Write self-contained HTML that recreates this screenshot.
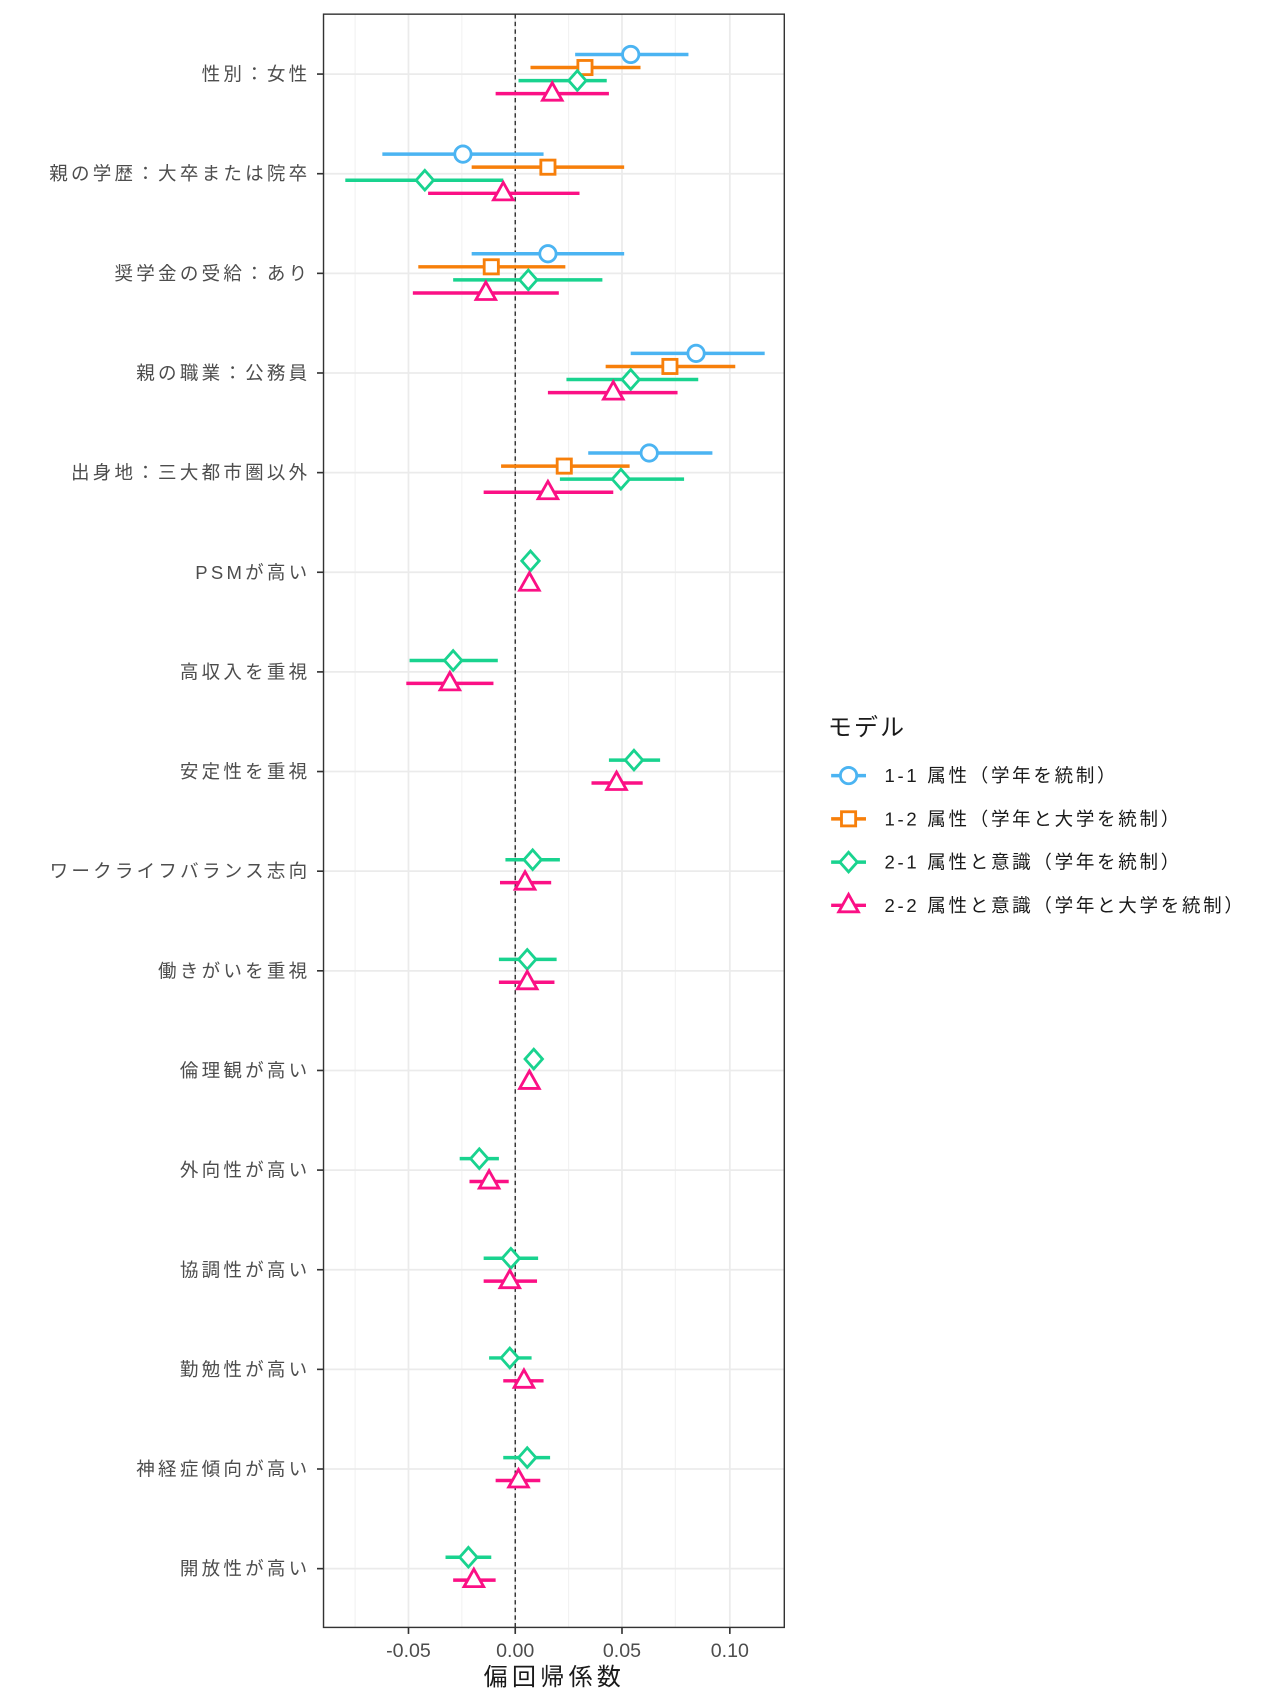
<!DOCTYPE html>
<html><head><meta charset="utf-8"><style>html,body{margin:0;padding:0;background:#fff}svg{display:block}</style></head>
<body>
<svg id="s" width="1281" height="1708" viewBox="0 0 1281 1708" xmlns="http://www.w3.org/2000/svg" font-family="'Liberation Sans','Noto Sans CJK JP',sans-serif">
<g id="g" transform="scale(1.0893)"></g>
</svg>
<script>
const g=document.getElementById('g');let h='';
const L=297,R=720,T=13,B=1494;
h+=`<rect x="${L}" y="${T}" width="${R-L}" height="${B-T}" fill="#fff"/>`;
[326,424,522,620].forEach(x=>h+=`<line x1="${x}" y1="${T}" x2="${x}" y2="${B}" stroke="#f2f2f2" stroke-width="1"/>`);
[375,473,571,670].forEach(x=>h+=`<line x1="${x}" y1="${T}" x2="${x}" y2="${B}" stroke="#ebebeb" stroke-width="1.6"/>`);
const labels=["性別：女性","親の学歴：大卒または院卒","奨学金の受給：あり","親の職業：公務員","出身地：三大都市圏以外","PSMが高い","高収入を重視","安定性を重視","ワークライフバランス志向","働きがいを重視","倫理観が高い","外向性が高い","協調性が高い","勤勉性が高い","神経症傾向が高い","開放性が高い"];
const rowY=i=>68+i*91.47;
labels.forEach((t,i)=>{const y=rowY(i);
h+=`<line x1="${L}" y1="${y}" x2="${R}" y2="${y}" stroke="#ebebeb" stroke-width="1.6"/>`;
h+=`<line x1="291" y1="${y}" x2="${L}" y2="${y}" stroke="#333" stroke-width="1.5"/>`;
h+=`<text x="285" y="${y+6}" text-anchor="end" font-size="17" letter-spacing="3" fill="#4d4d4d">${t}</text>`;});
h+=`<line x1="473" y1="${T}" x2="473" y2="${B}" stroke="#222" stroke-width="1.2" stroke-dasharray="4,3"/>`;
const C=["#4bb4f2","#f77f0a","#19d38f","#fb1085"];
function mk(k,x,y){const c=C[k];
if(k==0)return `<circle cx="${x}" cy="${y}" r="7.5" fill="#fff" stroke="${c}" stroke-width="2.6"/>`;
if(k==1)return `<rect x="${x-6.5}" y="${y-6.5}" width="13" height="13" fill="#fff" stroke="${c}" stroke-width="2.6"/>`;
if(k==2)return `<polygon points="${x},${y-9} ${x+8},${y} ${x},${y+9} ${x-8},${y}" fill="#fff" stroke="${c}" stroke-width="2.6"/>`;
return `<polygon points="${x},${y-10} ${x+9},${y+6} ${x-9},${y+6}" fill="#fff" stroke="${c}" stroke-width="2.6"/>`;}
const D=[
[[579,528,632],[537,487,588],[530,476,557],[507,455,559]],
[[425,351,499],[503,433,573],[390,317,462],[462,393,532]],
[[503,433,573],[451,384,519],[485,416,553],[446,379,513]],
[[639,579,702],[615,556,675],[579,520,641],[563,503,622]],
[[596,540,654],[518,460,578],[570,514,628],[503,444,563]],
[[487,482,492],[486,480,492]],
[[416,376,457],[413,373,453]],
[[582,559,606],[566,543,590]],
[[489,464,514],[482,459,506]],
[[484,458,511],[484,458,509]],
[[490,485,495],[486,481,492]],
[[440,422,458],[449,431,467]],
[[469,444,494],[468,444,493]],
[[468,449,488],[481,462,499]],
[[484,462,505],[476,455,496]],
[[430,409,451],[435,416,455]]];
D.forEach((r,i)=>{const y0=rowY(i);
if(r.length==4){r.forEach((d,k)=>{const y=y0-18+12*k;
h+=`<line x1="${d[1]}" y1="${y}" x2="${d[2]}" y2="${y}" stroke="${C[k]}" stroke-width="3.2"/>`+mk(k,d[0],y);});}
else{r.forEach((d,j)=>{const k=j+2,y=y0-10.5+21*j;
h+=`<line x1="${d[1]}" y1="${y}" x2="${d[2]}" y2="${y}" stroke="${C[k]}" stroke-width="3.2"/>`+mk(k,d[0],y);});}
});
h+=`<rect x="${L}" y="${T}" width="${R-L}" height="${B-T}" fill="none" stroke="#333" stroke-width="1.3"/>`;
[[375,"-0.05"],[473,"0.00"],[571,"0.05"],[670,"0.10"]].forEach(([x,t])=>{
h+=`<line x1="${x}" y1="${B}" x2="${x}" y2="${B+6}" stroke="#333" stroke-width="1.5"/>`;
h+=`<text x="${x}" y="${B+27}" text-anchor="middle" font-size="18" fill="#4d4d4d">${t}</text>`;});
h+=`<text x="509" y="${B+53}" text-anchor="middle" font-size="22" letter-spacing="4" fill="#1a1a1a">偏回帰係数</text>`;
h+=`<text x="760" y="675" font-size="22" letter-spacing="2" fill="#1a1a1a">モデル</text>`;
const LT=["1-1 属性（学年を統制）","1-2 属性（学年と大学を統制）","2-1 属性と意識（学年を統制）","2-2 属性と意識（学年と大学を統制）"];
LT.forEach((t,k)=>{const y=712+39.7*k;
h+=`<line x1="763" y1="${y}" x2="795" y2="${y}" stroke="${C[k]}" stroke-width="3.2"/>`+mk(k,779,y);
h+=`<text x="812" y="${y+6}" font-size="17" letter-spacing="2.5" fill="#1a1a1a">${t}</text>`;});
g.innerHTML=h;
</script>
</body></html>
